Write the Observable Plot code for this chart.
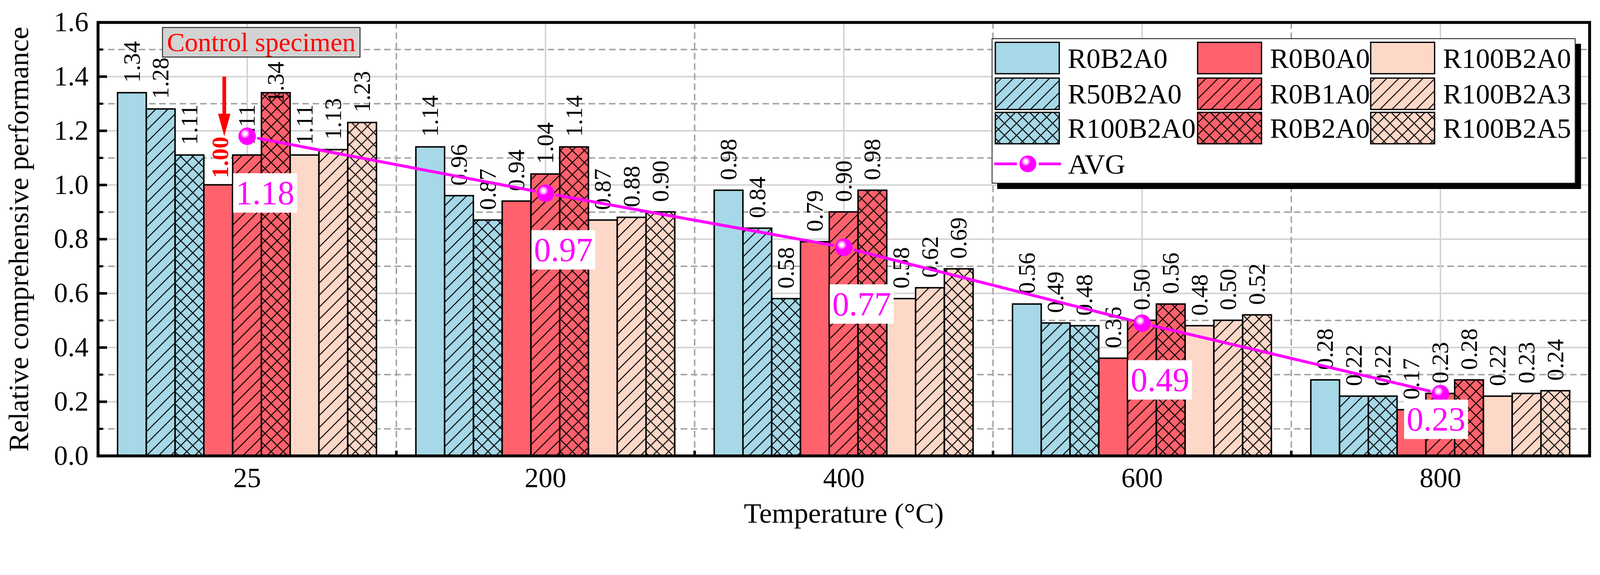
<!DOCTYPE html>
<html>
<head>
<meta charset="utf-8">
<script src="https://cdn.jsdelivr.net/npm/d3@7"></script>
<script src="https://cdn.jsdelivr.net/npm/@observablehq/plot@0.6"></script>
<style>
  html, body { margin: 0; padding: 0; background: #fff; overflow: hidden; }
  #wrap { position: relative; width: 4382px; height: 1473px; transform-origin: 0 0; font-family: "Liberation Serif", "Times New Roman", serif; }
  #wrap svg text { font-family: "Liberation Serif", "Times New Roman", serif !important; }
  #legend { position: absolute; background: #fff; border: 2px solid #000; box-sizing: border-box; box-shadow: 15px 15px 0 #000; }
</style>
</head>
<body>
<div id="wrap"></div>
<script>
// ---------------- data ----------------
const temperatures = ["25", "200", "400", "600", "800"];
const seriesNames = ["R0B2A0", "R50B2A0", "R100B2A0", "R0B0A0", "R0B1A0", "R0B2A0", "R100B2A0", "R100B2A3", "R100B2A5"];
const valuesR0B2A0_blue   = [1.34, 1.14, 0.98, 0.56, 0.28];
const valuesR50B2A0       = [1.28, 0.96, 0.84, 0.49, 0.22];
const valuesR100B2A0_blue = [1.11, 0.87, 0.58, 0.48, 0.22];
const valuesR0B0A0        = [1.00, 0.94, 0.79, 0.36, 0.17];
const valuesR0B1A0        = [1.11, 1.04, 0.90, 0.50, 0.23];
const valuesR0B2A0_red    = [1.34, 1.14, 0.98, 0.56, 0.28];
const valuesR100B2A0_peach= [1.11, 0.87, 0.58, 0.48, 0.22];
const valuesR100B2A3      = [1.13, 0.88, 0.62, 0.50, 0.23];
const valuesR100B2A5      = [1.23, 0.90, 0.69, 0.52, 0.24];
const avgValues           = [1.18, 0.97, 0.77, 0.49, 0.23];
const yTickValues = [0, 0.2, 0.4, 0.6, 0.8, 1.0, 1.2, 1.4, 1.6];
const yMinorValues = [0.1, 0.3, 0.5, 0.7, 0.9, 1.1, 1.3, 1.5];
const controlTemp = "25";
const controlSeries = 3;
const controlText = "Control specimen";
const xTitle = "Temperature (°C)";
const yTitle = "Relative comprehensive performance";
const avgName = "AVG";

const seriesValues = [valuesR0B2A0_blue, valuesR50B2A0, valuesR100B2A0_blue, valuesR0B0A0, valuesR0B1A0,
                      valuesR0B2A0_red, valuesR100B2A0_peach, valuesR100B2A3, valuesR100B2A5];

// ---------------- styles ----------------
const BLUE = "#A6D8E7", RED = "#FF626C", PEACH = "#FDD8C9", MAG = "#ff00ff";
const baseColors = [BLUE, BLUE, BLUE, RED, RED, RED, PEACH, PEACH, PEACH];
const hatchKinds = ["solid", "slash", "cross", "solid", "slash", "cross", "solid", "slash", "cross"];
const fillOf = i => `url(#pat${i})`;
const FONT = '"Liberation Serif", "Times New Roman", serif';

// ---------------- layout ----------------
const W = 4382, H = 1473;
const mL = 268, mR = 29, mT = 61, mB = 224;
const plotW = W - mL - mR, plotH = H - mT - mB;
const pInner = 0.132, pOuter = pInner / 2;
const step = plotW / temperatures.length;
const bandW = step * (1 - pInner);
const nS = seriesNames.length;
const barW = bandW / nS;
const mid = (nS - 1) / 2;

const data = seriesNames.flatMap((s, i) => temperatures.map((t, j) => ({temp: t, si: i, series: s, value: seriesValues[i][j]})));
const avgData = temperatures.map((t, j) => ({temp: t, avg: avgValues[j]}));
const segments = d3.pairs(avgData).map(([a, b]) => ({t1: a.temp, v1: a.avg, t2: b.temp, v2: b.avg}));
const isControl = d => d.temp === controlTemp && d.si === controlSeries;
const control = data.filter(isControl);
const lastTemp = temperatures[temperatures.length - 1];
// label that would run into the annotation box is pushed down (as in the original figure)
const isShifted = d => d.temp === controlTemp && d.si === 5;

const downTriangle = {draw(ctx) { ctx.moveTo(-17, -62); ctx.lineTo(17, -62); ctx.lineTo(0, 0); ctx.closePath(); }};

const labelOpts = (i, dy) => ({
  x: "temp", y: "value", text: d => d.value.toFixed(2), rotate: -90, textAnchor: "start", lineAnchor: "middle",
  dx: (i - mid) * barW, dy, fontSize: 65, fontFamily: FONT, fill: "black"
});

const marks = [
  // grid
  Plot.ruleY(yTickValues.filter(v => v > 0 && v < 1.6), {y: d => d, stroke: "#d2d2d2", strokeWidth: 4}),
  Plot.ruleY(yMinorValues, {y: d => d, stroke: "#a3a3a3", strokeWidth: 4, strokeDasharray: "18,10"}),
  Plot.ruleX(temperatures, {x: d => d, stroke: "#d2d2d2", strokeWidth: 4}),
  Plot.ruleX(temperatures.slice(1), {x: d => d, dx: -step / 2, stroke: "#a3a3a3", strokeWidth: 4, strokeDasharray: "18,10"}),
  // bars
  ...seriesNames.map((name, i) => Plot.barY(data.filter(d => d.si === i), {
    x: "temp", y: "value", fill: fillOf(i), stroke: "black", strokeWidth: 4,
    insetLeft: i * barW, insetRight: (nS - 1 - i) * barW
  })),
  // value labels
  ...seriesNames.map((name, i) => Plot.text(data.filter(d => d.si === i && !isControl(d) && !isShifted(d)), labelOpts(i, -28))),
  ...seriesNames.map((name, i) => Plot.text(data.filter(d => d.si === i && isShifted(d)), labelOpts(i, 28))),
  Plot.text(control, {x: "temp", y: "value", text: d => d.value.toFixed(2), rotate: -90, textAnchor: "start", lineAnchor: "middle",
    dx: (controlSeries - mid) * barW + 6, dy: -19, fontSize: 65, fontFamily: FONT, fill: "red", fontWeight: "bold"}),
  // AVG line + markers
  Plot.arrow(segments, {x1: "t1", y1: "v1", x2: "t2", y2: "v2", stroke: MAG, strokeWidth: 8, headLength: 0, insetStart: 31, insetEnd: 31}),
  Plot.dot(avgData, {x: "temp", y: "avg", r: 24, fill: "url(#avgBall)"}),
  Plot.text(avgData.filter(d => d.temp !== lastTemp), {x: "temp", y: "avg", text: d => d.avg.toFixed(2), dx: 49, dy: 157, lineAnchor: "middle", fill: MAG, fontSize: 92, fontFamily: FONT, ariaDescription: "avg-label"}),
  Plot.text(avgData.filter(d => d.temp === lastTemp), {x: "temp", y: "avg", text: d => d.avg.toFixed(2), dx: -12, dy: 72, lineAnchor: "middle", fill: MAG, fontSize: 92, fontFamily: FONT, ariaDescription: "avg-label"}),
  // frame & ticks
  Plot.frame({stroke: "black", strokeWidth: 8}),
  Plot.tickY(yTickValues, {y: d => d, insetRight: plotW - 25, stroke: "black", strokeWidth: 7}),
  Plot.tickY(yMinorValues, {y: d => d, insetRight: plotW - 14, stroke: "black", strokeWidth: 6}),
  Plot.ruleX(temperatures.slice(1), {x: d => d, dx: -step / 2, insetTop: plotH - 14, stroke: "black", strokeWidth: 7}),
  // axes
  Plot.axisY({ticks: yTickValues, tickSize: 0, tickPadding: 26, tickFormat: d => d.toFixed(1), fontSize: 76, fontFamily: FONT, label: null}),
  Plot.axisX({tickSize: 0, tickPadding: 32, fontSize: 76, fontFamily: FONT, label: null}),
  Plot.text([yTitle], {text: d => d, frameAnchor: "left", textAnchor: "middle", lineAnchor: "middle", rotate: -90, dx: -216, fontSize: 78, fontFamily: FONT, fill: "black"}),
  Plot.text([xTitle], {text: d => d, frameAnchor: "bottom", textAnchor: "middle", lineAnchor: "middle", dy: 158, fontSize: 78, fontFamily: FONT, fill: "black"}),
  // control specimen annotation
  Plot.ruleX(control, {x: "temp", dx: (controlSeries - mid) * barW + 16, insetTop: 210 - mT, insetBottom: mT + plotH - 322, stroke: "red", strokeWidth: 10}),
  Plot.dot(control, {x: "temp", frameAnchor: "top", dx: (controlSeries - mid) * barW + 16, dy: 373 - mT, symbol: downTriangle, fill: "red", r: 10}),
  Plot.text(control, {x: "temp", frameAnchor: "top", textAnchor: "middle", lineAnchor: "middle", text: () => controlText, dx: 38.5, dy: 55.5, fill: "#ff0000", fontSize: 73, fontFamily: FONT, ariaDescription: "control-label"})
];

const svg = Plot.plot({
  width: W, height: H,
  marginLeft: mL, marginRight: mR, marginTop: mT, marginBottom: mB,
  style: {fontFamily: FONT, fontSize: "76px", background: "white", color: "black", maxWidth: "none"},
  x: {type: "band", domain: temperatures, paddingInner: pInner, paddingOuter: pOuter, label: null},
  y: {domain: [0, 1.6], label: null},
  marks
});

// ---------------- defs: patterns & gradient ----------------
function addDefs(svgEl) {
  const s = d3.select(svgEl);
  const defs = s.insert("defs", ":first-child");
  const P = 33;
  seriesNames.forEach((n, i) => {
    const pat = defs.append("pattern").attr("id", `pat${i}`).attr("patternUnits", "userSpaceOnUse")
      .attr("width", P).attr("height", P);
    pat.append("rect").attr("width", P).attr("height", P).attr("fill", baseColors[i]);
    if (hatchKinds[i] !== "solid") {
      pat.append("path").attr("d", `M-8,8L8,-8M0,${P}L${P},0M${P - 8},${P + 8}L${P + 8},${P - 8}`)
        .attr("stroke", "black").attr("stroke-width", 2.7);
    }
    if (hatchKinds[i] === "cross") {
      pat.append("path").attr("d", `M-8,${P - 8}L8,${P + 8}M0,0L${P},${P}M${P - 8},-8L${P + 8},8`)
        .attr("stroke", "black").attr("stroke-width", 2.7);
    }
  });
  const g = defs.append("radialGradient").attr("id", "avgBall").attr("cx", 0.38).attr("cy", 0.36).attr("r", 0.75);
  [[0, "#ffffff"], [0.1, "#ffffff"], [0.14, "#ffd0ff"], [0.24, "#ff9cff"], [0.32, "#ff22ff"], [0.4, MAG], [1, MAG]]
    .forEach(([o, c]) => g.append("stop").attr("offset", o).attr("stop-color", c));
}
addDefs(svg);

const wrap = document.getElementById("wrap");
wrap.appendChild(svg);

// ---------------- boxes behind labels ----------------
function boxes(selector, fill, stroke, sw, px, py) {
  d3.select(svg).selectAll(selector).each(function () {
    const b = this.getBBox();
    const r = document.createElementNS("http://www.w3.org/2000/svg", "rect");
    r.setAttribute("x", b.x - px); r.setAttribute("y", b.y - py);
    r.setAttribute("width", b.width + 2 * px); r.setAttribute("height", b.height + 2 * py);
    r.setAttribute("fill", fill);
    if (stroke) { r.setAttribute("stroke", stroke); r.setAttribute("stroke-width", sw); }
    const t = this.getAttribute("transform");
    if (t) r.setAttribute("transform", t);
    this.parentNode.insertBefore(r, this);
  });
}
boxes('g[aria-description="avg-label"] text', "white", null, 0, 7, 3);
boxes('g[aria-description="control-label"] text', "#d3d3d3", "#222", 2.5, 12, 0);

// ---------------- legend ----------------
const LX = 2716, LY = 105, LW = 1599, LH = 398;
const legend = d3.select(wrap).append("div").attr("id", "legend")
  .style("left", LX + "px").style("top", LY + "px").style("width", LW + "px").style("height", LH + "px");
const lsvg = legend.append("svg").attr("width", LW - 4).attr("height", LH - 4)
  .style("position", "absolute").style("left", "0px").style("top", "0px")
  .attr("font-family", FONT).attr("font-size", 77);
const colX = [8, 562, 1036], rowY = [9, 107, 201], swW = 175, swH = 86;
seriesNames.forEach((n, i) => {
  const c = Math.floor(i / 3), r = i % 3;
  lsvg.append("rect").attr("x", colX[c]).attr("y", rowY[r]).attr("width", swW).attr("height", swH)
    .attr("fill", fillOf(i)).attr("stroke", "black").attr("stroke-width", 3.5);
  lsvg.append("text").attr("x", colX[c] + 198).attr("y", rowY[r] + swH / 2).attr("dy", "0.35em").text(n);
});
const ay = 342, ax = 97;
lsvg.append("line").attr("x1", 5).attr("x2", ax - 30).attr("y1", ay).attr("y2", ay).attr("stroke", MAG).attr("stroke-width", 7.5);
lsvg.append("line").attr("x1", ax + 30).attr("x2", 188).attr("y1", ay).attr("y2", ay).attr("stroke", MAG).attr("stroke-width", 7.5);
lsvg.append("circle").attr("cx", ax).attr("cy", ay).attr("r", 23).attr("fill", "url(#avgBall)");
lsvg.append("text").attr("x", 207).attr("y", ay).attr("dy", "0.35em").text(avgName);

// ---------------- fit to viewport ----------------
const sc = Math.min(window.innerWidth / W, window.innerHeight / H, 1);
if (sc < 1) wrap.style.transform = `scale(${sc})`;
</script>
</body>
</html>
